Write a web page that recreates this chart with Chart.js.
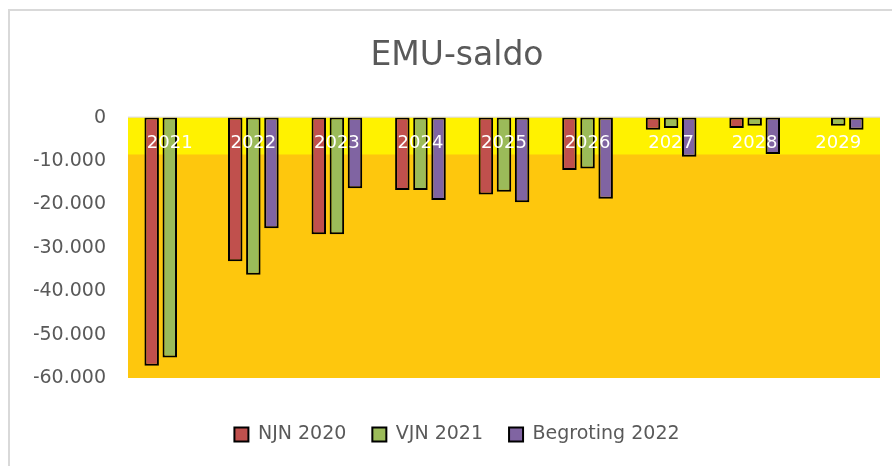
<!DOCTYPE html>
<html>
<head>
<meta charset="utf-8">
<script src="https://cdn.jsdelivr.net/npm/chart.js@4"></script>
<style>
  html, body { margin: 0; padding: 0; background: #fff; overflow: hidden; }
  #frame { position: absolute; left: 8px; top: 9px; width: 900px; height: 470px; border: 2px solid #d9d9d9; box-sizing: border-box; }
  #wrap { position: absolute; left: 0; top: 0; width: 892px; height: 466px; }
</style>
</head>
<body>
<div id="frame"></div>
<div id="wrap"><canvas id="chart"></canvas></div>
<script>
var years = ['2021', '2022', '2023', '2024', '2025', '2026', '2027', '2028', '2029'];
var njn2020 = [-57200, -33100, -26900, -16700, -17700, -12100, -2800, -2400, null];
var vjn2021 = [-55300, -36200, -26900, -16700, -17100, -11700, -2400, -1900, -1900];
var begroting2022 = [null, -25500, -16300, -19000, -19500, -18700, -9000, -8400, -2800];
var seriesNames = ['NJN 2020', 'VJN 2021', 'Begroting 2022'];
var yTicks = [0, -10000, -20000, -30000, -40000, -50000, -60000];
var bandLimit = -8500;

var fontFamily = '"DejaVu Sans", sans-serif';
var textGray = '#595959';

function formatNl(v){
    var s = Math.abs(v).toString().replace(/\B(?=(\d{3})+(?!\d))/g, '.');
    return (v < 0 ? '-' : '') + s;
}

var plotBackground = {
    id: 'plotBackground',
    beforeDatasetsDraw: function(chart){
        var ctx = chart.ctx, area = chart.chartArea, y = chart.scales.y;
        ctx.save();
        ctx.fillStyle = '#FEC70D';
        ctx.fillRect(area.left, area.top, area.right - area.left, area.bottom - area.top);
        var yBand = y.getPixelForValue(bandLimit);
        var yZero = y.getPixelForValue(0);
        ctx.fillStyle = '#FFF200';
        ctx.fillRect(area.left, yZero, area.right - area.left, yBand - yZero);
        ctx.strokeStyle = '#d9d9d9';
        ctx.lineWidth = 1;
        ctx.beginPath();
        ctx.moveTo(area.left, yZero - 0.5);
        ctx.lineTo(area.right, yZero - 0.5);
        ctx.stroke();
        ctx.restore();
    }
};

var categoryLabels = {
    id: 'categoryLabels',
    afterDatasetsDraw: function(chart){
        var ctx = chart.ctx, x = chart.scales.x, y = chart.scales.y;
        ctx.save();
        ctx.fillStyle = '#ffffff';
        ctx.font = '18px ' + fontFamily;
        ctx.textAlign = 'center';
        ctx.textBaseline = 'middle';
        var yPos = y.getPixelForValue(0) + 26;
        years.forEach(function(label, i){
            ctx.fillText(label, x.getPixelForValue(i), yPos);
        });
        ctx.restore();
    }
};

function makeDataset(label, data, color){
    return {
        label: label,
        data: data,
        backgroundColor: color,
        borderColor: '#000000',
        borderWidth: 2,
        borderSkipped: false,
        barPercentage: 0.8,
        categoryPercentage: 0.65
    };
}

new Chart(document.getElementById('chart'), {
    type: 'bar',
    data: {
        labels: years,
        datasets: [
            makeDataset(seriesNames[0], njn2020, '#C0504D'),
            makeDataset(seriesNames[1], vjn2021, '#9BBB59'),
            makeDataset(seriesNames[2], begroting2022, '#8064A2')
        ]
    },
    options: {
        responsive: true,
        maintainAspectRatio: false,
        animation: false,
        layout: { padding: { left: 34, right: 12, top: 0, bottom: 12 } },
        plugins: {
            title: {
                display: true,
                text: 'EMU-saldo',
                color: textGray,
                font: { family: fontFamily, size: 33, weight: 'normal' },
                padding: { top: 37, bottom: 41 }
            },
            legend: {
                position: 'bottom',
                labels: {
                    color: textGray,
                    font: { family: fontFamily, size: 19 },
                    boxWidth: 14,
                    boxHeight: 14,
                    padding: 26
                }
            },
            tooltip: { enabled: false }
        },
        scales: {
            x: {
                grid: { display: false },
                border: { display: false },
                ticks: { display: false },
                afterFit: function(scale){ scale.height = 21; }
            },
            y: {
                min: -60000,
                max: 0,
                grid: { display: false },
                border: { display: false },
                afterFit: function(scale){ scale.width = 94; },
                afterBuildTicks: function(scale){
                    scale.ticks = yTicks.map(function(v){ return { value: v }; });
                },
                ticks: {
                    color: textGray,
                    padding: 14,
                    font: { family: fontFamily, size: 19 },
                    callback: function(v){ return formatNl(v); }
                }
            }
        }
    },
    plugins: [plotBackground, categoryLabels]
});
</script>
</body>
</html>
